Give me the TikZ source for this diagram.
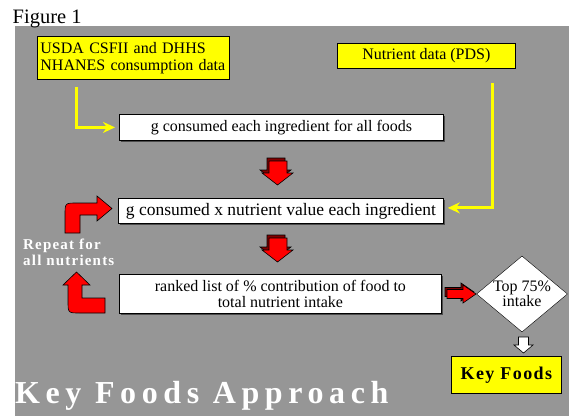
\documentclass[tikz,border=0pt]{standalone}
\usepackage{fontspec}
\setmainfont{Liberation Serif}
\newfontfamily\spacedA[LetterSpace=17.5]{Liberation Serif}
\newfontfamily\spacedB[LetterSpace=8]{Liberation Serif}
\usetikzlibrary{shapes.geometric,shadows,arrows.meta}
\definecolor{panelgray}{RGB}{150,150,150}
\definecolor{boxyellow}{RGB}{255,255,0}
\definecolor{blockred}{RGB}{255,0,0}
\definecolor{blockdark}{RGB}{128,0,0}

\begin{document}
\begin{tikzpicture}[x=1pt,y=-1pt,
  every node/.style={font=\fontsize{16}{17}\selectfont},
  databox/.style={draw=black, line width=0.8pt, fill=boxyellow, inner sep=0pt, anchor=north west},
  stepbox/.style={draw=black, line width=0.8pt, fill=white, inner sep=0pt, anchor=north west,
    drop shadow={shadow xshift=2pt, shadow yshift=-2pt, fill=black!70, opacity=1}},
  feed/.style={draw=boxyellow, line width=3pt, shorten >=4pt, -{Stealth[length=12pt,width=11pt]}},
  redblock/.style={draw=black, fill=blockred, line width=0.6pt},
  darkblock/.style={draw=black, fill=blockdark, line width=0.6pt},
  ]
\useasboundingbox (0,0) rectangle (569,417);
\fill[panelgray] (15,26) rectangle (569,416);
\node[anchor=base west, inner sep=0pt, font=\fontsize{20.5}{24}\selectfont] (fig) at (12.5,24) {Figure 1};

% input data
\node[databox, minimum width=192pt, minimum height=43pt, text width=186pt, inner xsep=3pt, align=left] (usda) at (37,36) {USDA CSFII and DHHS\\NHANES consumption data};
\node[databox, minimum width=178pt, minimum height=25pt] (nut) at (337,43) {Nutrient data (PDS)};

% steps
\node[stepbox, minimum width=324pt, minimum height=26pt] (ing) at (119,114) {g consumed each ingredient for all foods};
\node[stepbox, minimum width=325pt, minimum height=25pt, font=\fontsize{17.5}{19}\selectfont] (calc) at (118,198) {g consumed x nutrient value each ingredient};
\node[stepbox, minimum width=322pt, minimum height=39pt, align=center, font=\fontsize{16}{16}\selectfont] (rank) at (119,274) {ranked list of \% contribution of food to\\total nutrient intake};
\node[diamond, draw=black, fill=white, aspect=1.2, inner sep=0pt, minimum width=91pt, minimum height=76pt, align=center, font=\fontsize{16}{15}\selectfont] (top) at (522,294) {Top 75\%\\intake};
\node[databox, minimum width=110pt, minimum height=37pt, font=\spacedB\bfseries\fontsize{18}{20}\selectfont] (key) at (451,356) {Key Foods};

\node[anchor=west, inner sep=0pt, text=white, align=left, font=\spacedB\bfseries\fontsize{15}{16}\selectfont] (rep) at (23,252) {Repeat for\\all nutrients};
\node[anchor=base west, inner sep=0pt, text=white, font=\spacedA\bfseries\fontsize{32}{36}\selectfont] (title) at (15,403) {Key Foods Approach};

% yellow feeds
\draw[feed] ([xshift=39pt,yshift=-7pt]usda.south west) |- (ing.west);
\draw[feed] ([xshift=-23pt,yshift=-14pt]nut.south east) |- ([yshift=3pt]calc.east);

% block arrows
\foreach \t in {161,238}{
  \draw[darkblock, shift={(-2,-3)}] (269,\t) -- (287,\t) -- (287,\t+12) -- (293,\t+12) -- (277.5,\t+24) -- (262,\t+12) -- (269,\t+12) -- cycle;
  \draw[redblock] (269,\t) -- (287,\t) -- (287,\t+12) -- (293,\t+12) -- (277.5,\t+24) -- (262,\t+12) -- (269,\t+12) -- cycle;
}
\draw[darkblock, shift={(-2,-2)}] (447,289.5) -- (463,289.5) -- (463,285) -- (476,294) -- (463,303) -- (463,298.5) -- (447,298.5) -- cycle;
\draw[redblock] (447,289.5) -- (463,289.5) -- (463,285) -- (476,294) -- (463,303) -- (463,298.5) -- (447,298.5) -- cycle;
\draw[draw=black, fill=white, line width=0.6pt] (518.5,337) -- (528.5,337) -- (528.5,345) -- (533,345) -- (523.5,353) -- (514,345) -- (518.5,345) -- cycle;

% repeat loop
\draw[redblock] (65,233) -- (65,215) .. controls (65,203) .. (77,203) -- (97,203) -- (97,196) -- (112,208.5) -- (97,221) -- (97,215) -- (80,215) -- (80,233) -- cycle;
\draw[redblock] (82,285) -- (90,285) -- (76.5,272) -- (63,285) -- (68,285) -- (68,301) .. controls (68,313) .. (80,313) -- (105,313) -- (105,298) -- (82,298) -- cycle;
\end{tikzpicture}
\end{document}
